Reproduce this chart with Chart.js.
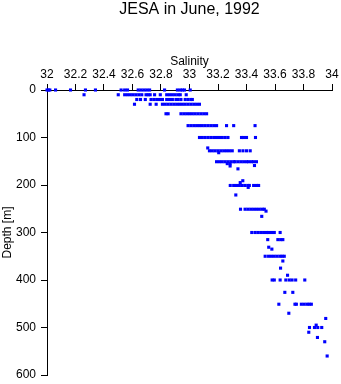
<!DOCTYPE html>
<html>
<head>
<meta charset="utf-8">
<title>JESA in June, 1992</title>
<script src="https://cdn.jsdelivr.net/npm/chart.js@4"></script>
<style>
  html, body { margin: 0; padding: 0; background: #fff; }
  #chart { display: block; }
</style>
</head>
<body>
<canvas id="chart" width="341" height="384"></canvas>
<script>
const chartTitle = "JESA in June, 1992";
const xTitle = "Salinity";
const yTitle = "Depth [m]";

const salinityTicks = [32, 32.2, 32.4, 32.6, 32.8, 33, 33.2, 33.4, 33.6, 33.8, 34];
const depthTicks = [0, 100, 200, 300, 400, 500, 600];

// depth of each sample level [m]
const depthLevels = [
  0, 10, 20, 30, 50, 75, 100, 122, 128, 132, 151, 155, 159, 160, 166,
  191, 195, 201, 205, 221, 251, 255, 266, 300, 315, 331, 335, 350, 360,
  375, 390, 400, 426, 451, 470, 481, 495, 500, 510, 521, 530, 560,
];

// salinity readings at each of those depths
const salinityByLevel = [
  [32.0, 32.01, 32.02, 32.06, 32.165, 32.27, 32.34, 32.52, 32.545, 32.565, 32.64, 32.66, 32.68, 32.7, 32.72, 32.825, 32.915, 32.935, 32.95, 32.965, 33.005],
  [32.26, 32.5, 32.545, 32.565, 32.585, 32.605, 32.625, 32.645, 32.665, 32.695, 32.71, 32.724, 32.755, 32.795, 32.84, 32.86, 32.88, 32.9, 32.92, 32.935, 32.977],
  [32.63, 32.656, 32.69, 32.73, 32.75, 32.77, 32.79, 32.81, 32.84, 32.86, 32.88, 32.905, 32.92, 32.94, 32.97, 32.99, 33.01, 33.02],
  [32.614, 32.724, 32.766, 32.81, 32.83, 32.85, 32.87, 32.89, 32.91, 32.93, 32.95, 32.97, 32.99, 33.01, 33.03, 33.05, 33.07],
  [32.835, 32.85, 32.94, 32.96, 32.98, 33.0, 33.02, 33.04, 33.06, 33.08, 33.1, 33.12],
  [32.99, 33.01, 33.03, 33.05, 33.07, 33.09, 33.11, 33.13, 33.15, 33.17, 33.19, 33.26, 33.31, 33.46],
  [33.07, 33.09, 33.11, 33.13, 33.15, 33.17, 33.19, 33.21, 33.23, 33.25, 33.27, 33.365, 33.38, 33.4, 33.463],
  [33.128],
  [33.14, 33.16, 33.18, 33.2, 33.22, 33.24, 33.26, 33.28, 33.3, 33.35, 33.375, 33.4, 33.426],
  [33.205],
  [33.19, 33.21, 33.23, 33.25, 33.27, 33.29, 33.31, 33.32, 33.34, 33.36, 33.38, 33.4, 33.415, 33.435, 33.45, 33.47],
  [33.265, 33.285],
  [33.456],
  [33.285],
  [33.34],
  [33.374],
  [33.356],
  [33.286, 33.31, 33.33, 33.35, 33.37, 33.39, 33.41, 33.42, 33.45, 33.47, 33.485],
  [33.412],
  [33.325],
  [33.358, 33.39, 33.41, 33.43, 33.45, 33.47, 33.49, 33.51, 33.525],
  [33.537],
  [33.507],
  [33.437, 33.46, 33.48, 33.5, 33.52, 33.54, 33.555, 33.575, 33.595, 33.636],
  [33.549, 33.62, 33.64, 33.655],
  [33.556],
  [33.578],
  [33.531, 33.555, 33.575, 33.595, 33.615, 33.635, 33.65, 33.665],
  [33.655],
  [33.639],
  [33.688],
  [33.58, 33.595, 33.636, 33.676, 33.7, 33.72, 33.745, 33.809],
  [33.669, 33.725],
  [33.627, 33.74, 33.75, 33.785, 33.805, 33.825, 33.84, 33.855],
  [33.697],
  [33.956],
  [33.889],
  [33.842, 33.877, 33.9, 33.928],
  [33.837],
  [33.898],
  [33.949],
  [33.966],
];

const points = [];
depthLevels.forEach((depth, i) => {
  salinityByLevel[i].forEach((s) => points.push({ x: s, y: depth }));
});

const fontFamily = '"Liberation Sans", Arial, sans-serif';

// title and axis names drawn at fixed spots around the plot
const textPlugin = {
  id: "textPlugin",
  afterDraw(chart) {
    const c = chart.ctx;
    const area = chart.chartArea;
    const midX = (area.left + area.right) / 2;
    c.save();
    c.fillStyle = "#000";
    c.textAlign = "center";
    c.textBaseline = "alphabetic";
    c.font = "16px " + fontFamily;
    c.fillText(chartTitle, midX, 14);
    c.font = "12px " + fontFamily;
    c.fillText(xTitle, midX, 65);
    c.translate(11, (area.top + area.bottom) / 2);
    c.rotate(-Math.PI / 2);
    c.fillText(yTitle, 0, 0);
    c.restore();
  },
};

const ctx = document.getElementById("chart").getContext("2d");
new Chart(ctx, {
  type: "scatter",
  data: {
    datasets: [
      {
        data: points,
        backgroundColor: "#0000ff",
        borderWidth: 0,
        pointStyle: "rect",
        pointRadius: 2.2,
        clip: false,
      },
    ],
  },
  options: {
    responsive: false,
    animation: false,
    layout: { padding: { top: 0, right: 9, bottom: 9, left: 0 } },
    plugins: {
      legend: { display: false },
      tooltip: { enabled: false },
      title: { display: false },
    },
    scales: {
      x: {
        type: "linear",
        position: "top",
        min: 32,
        max: 34,
        afterBuildTicks: (scale) => {
          scale.ticks = salinityTicks.map((v) => ({ value: v }));
        },
        afterFit: (scale) => {
          scale.height = 90;
          scale.paddingLeft = 0;
          scale.paddingRight = 0;
        },
        ticks: {
          color: "#000",
          padding: 2,
          maxRotation: 0,
          autoSkip: false,
          font: { family: fontFamily, size: 12 },
          callback: (v) => String(v),
        },
        grid: { drawOnChartArea: false, drawTicks: true, tickLength: 6, color: "#000" },
        border: { color: "#000", width: 1 },
      },
      y: {
        type: "linear",
        reverse: true,
        min: 0,
        max: 600,
        afterBuildTicks: (scale) => {
          scale.ticks = depthTicks.map((v) => ({ value: v }));
        },
        afterFit: (scale) => {
          scale.width = 47;
          scale.paddingTop = 0;
          scale.paddingBottom = 0;
        },
        ticks: {
          color: "#000",
          padding: 5,
          font: { family: fontFamily, size: 12 },
          callback: (v) => String(v),
        },
        grid: { drawOnChartArea: false, drawTicks: true, tickLength: 6, color: "#000" },
        border: { color: "#000", width: 1 },
      },
    },
  },
  plugins: [textPlugin],
});
</script>
</body>
</html>
